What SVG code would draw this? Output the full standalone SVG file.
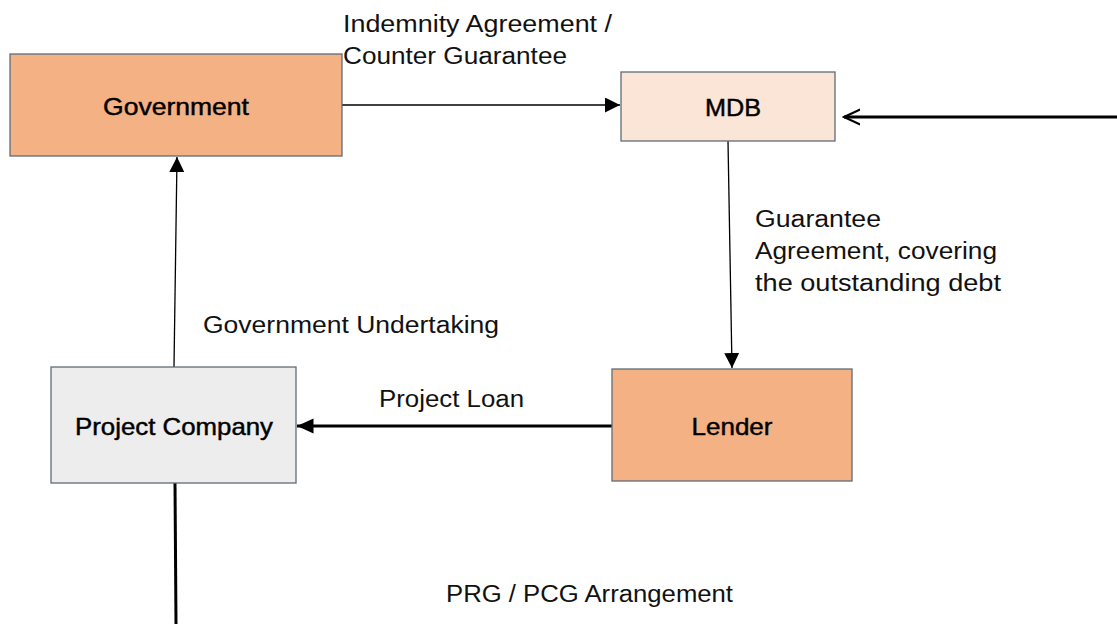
<svg xmlns="http://www.w3.org/2000/svg" width="1117" height="624" viewBox="0 0 1117 624">
<style>
.box{stroke:#5f6b78;stroke-width:1.3}
.nl{font-family:"Liberation Sans",Arial,sans-serif;font-size:24px;fill:#000;stroke:#000;stroke-width:0.45;text-anchor:middle}
.el{font-family:"Liberation Sans",Arial,sans-serif;font-size:23px;fill:#111}
.thin{stroke:#000;stroke-width:1.3;fill:none}
.thick{stroke:#000;stroke-width:3;fill:none}
</style>
<defs>
<marker id="tri" viewBox="0 0 10 10" refX="10" refY="5" markerWidth="15" markerHeight="15" markerUnits="userSpaceOnUse" orient="auto"><path d="M0,0 L10,5 L0,10 z" fill="#000"/></marker>
<marker id="triB" viewBox="0 0 10 10" refX="10" refY="5" markerWidth="5.5" markerHeight="5.5" orient="auto"><path d="M0,0.5 L10,5 L0,9.5 z" fill="#000"/></marker>
<marker id="open" viewBox="0 0 10 10" refX="9" refY="5" markerWidth="6" markerHeight="6" orient="auto"><path d="M0,0.8 L9,5 L0,9.2" fill="none" stroke="#000" stroke-width="1.2"/></marker>
</defs>
<rect width="1117" height="624" fill="#fff"/>
<g id="connectors">
<line class="thin" x1="342" y1="105" x2="620" y2="105" marker-end="url(#tri)"/>
<line class="thick" x1="1117" y1="117" x2="844" y2="117" marker-end="url(#open)"/>
<line class="thin" x1="728" y1="141" x2="732" y2="368" marker-end="url(#tri)"/>
<line class="thick" x1="612" y1="426" x2="297" y2="426" marker-end="url(#triB)"/>
<line class="thin" x1="174" y1="367" x2="177" y2="157" marker-end="url(#tri)"/>
<line class="thick" x1="175" y1="483" x2="176" y2="624"/>
</g>
<g id="government">
<rect class="box" x="10" y="54" width="332" height="102" fill="#F4B183"/>
<text class="nl" x="176" y="115" textLength="146" lengthAdjust="spacingAndGlyphs">Government</text>
</g>
<g id="mdb">
<rect class="box" x="621" y="72" width="214" height="69" fill="#FBE5D6"/>
<text class="nl" x="733" y="116" textLength="56" lengthAdjust="spacingAndGlyphs">MDB</text>
</g>
<g id="project-company">
<rect class="box" x="51" y="367" width="245" height="116" fill="#EDEDED"/>
<text class="nl" x="174" y="435" textLength="198" lengthAdjust="spacingAndGlyphs">Project Company</text>
</g>
<g id="lender">
<rect class="box" x="612" y="369" width="240" height="112" fill="#F4B183"/>
<text class="nl" x="732" y="435" textLength="81" lengthAdjust="spacingAndGlyphs">Lender</text>
</g>
<g id="labels">
<text class="el" x="343" y="32" textLength="269" lengthAdjust="spacingAndGlyphs">Indemnity Agreement /</text>
<text class="el" x="343" y="64" textLength="224" lengthAdjust="spacingAndGlyphs">Counter Guarantee</text>
<text class="el" x="755" y="227" textLength="126" lengthAdjust="spacingAndGlyphs">Guarantee</text>
<text class="el" x="755" y="259" textLength="242" lengthAdjust="spacingAndGlyphs">Agreement, covering</text>
<text class="el" x="755" y="291" textLength="246" lengthAdjust="spacingAndGlyphs">the outstanding debt</text>
<text class="el" x="203" y="333" textLength="296" lengthAdjust="spacingAndGlyphs">Government Undertaking</text>
<text class="el" x="379" y="407" textLength="145" lengthAdjust="spacingAndGlyphs">Project Loan</text>
<text class="el" x="446" y="602" textLength="287" lengthAdjust="spacingAndGlyphs">PRG / PCG Arrangement</text>
</g>
</svg>
